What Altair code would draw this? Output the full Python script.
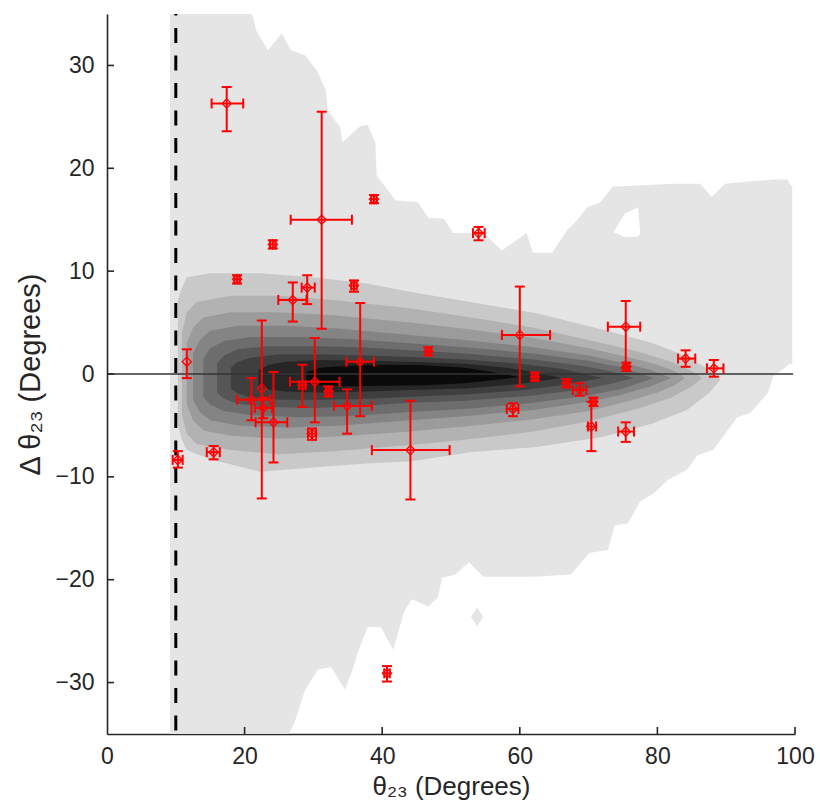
import altair as alt
import pandas as pd

# ---------------- contour data (theta23 in degrees, delta theta23 in degrees) -------------
# outermost (lightest) filled level: upper and lower boundaries
L1_up_x = [9.16, 21.08, 21.7, 23.4, 25.4, 26.7, 28.8, 30.5, 31.8, 32.1, 33.9, 34.2, 36.8, 37.9, 39.0,
           39.2, 41.9, 45.2, 46.7, 49.0, 50.3, 54.7, 57.4, 61.0, 61.9, 64.7, 66.9, 68.0, 69.8, 71.7,
           73.5, 82.3, 86.2, 87.9, 89.8, 96.8, 98.8, 99.6]
L1_up_y = [35, 35, 33.4, 31.5, 33.1, 31.5, 31.0, 29.5, 27.6, 25.6, 24.0, 22.5, 24.1, 24.2, 22.5,
           19.3, 16.9, 16.7, 15.2, 15.1, 13.7, 13.7, 12.0, 13.7, 11.8, 11.8, 14.0, 14.7, 16.2, 16.7,
           18.2, 18.5, 18.5, 17.2, 18.5, 18.9, 18.9, 18.2]
L1_lo_x = [9.16, 26.45, 27.3, 28.8, 30.7, 32.6, 34.6, 35.6, 36.5, 37.9, 39.8, 41.6, 43.2, 44.3, 46.7,
           48.1, 48.7, 50.6, 52.6, 54.7, 62.1, 67.4, 70.1, 72.8, 73.8, 75.7, 77.5, 79.5, 81.5, 84.3,
           85.8, 88.1, 90.1, 91.6, 93.5, 96.1, 96.8, 99.6]
L1_lo_y = [-35, -35, -33.8, -30.7, -28.7, -28.5, -30.7, -28.9, -27.0, -24.6, -24.6, -26.8, -23.1, -21.9, -22.6,
           -21.7, -19.8, -19.5, -18.3, -19.7, -19.7, -19.5, -17.4, -17.1, -14.7, -14.5, -12.4, -11.6, -10.3, -9.3,
           -7.9, -7.4, -5.6, -4.2, -3.8, -1.8, -0.3, 1.2]

# hole in the outer level and a small isolated island
HOLE_x = [73.6, 75.3, 77.2, 77.5]
HOLE_up = [13.8, 15.6, 16.2, 13.6]
HOLE_lo = [13.8, 13.3, 13.4, 13.6]
ISL_x = [52.9, 53.8, 54.7]
ISL_up = [-23.6, -22.7, -23.6]
ISL_lo = [-23.6, -24.5, -23.6]

# inner levels (x, upper, lower)
L2_x = [10.3, 10.9, 11.6, 15.0, 22.2, 29.9, 37.8, 44.0, 52.8, 62.5, 72.1, 79.4, 84.3, 87.6, 89.2]
L2_up = [7.2, 8.4, 9.4, 9.8, 9.8, 9.4, 8.8, 8.0, 7.0, 5.9, 4.3, 3.0, 1.7, 0.4, -0.5]
L2_lo = [-5.0, -6.4, -7.4, -8.3, -9.5, -9.1, -8.7, -8.5, -7.6, -7.1, -6.1, -4.8, -3.5, -1.8, -0.5]

L3_x = [10.9, 11.6, 13.0, 18.0, 25.0, 33.0, 44.0, 52.0, 62.0, 70.0, 77.0, 82.0, 85.0, 86.5]
L3_up = [4.0, 6.0, 7.0, 7.6, 7.6, 7.2, 6.4, 5.6, 4.5, 3.3, 2.2, 1.2, 0.3, -0.4]
L3_lo = [-4.0, -5.8, -6.8, -7.4, -7.8, -7.5, -6.9, -6.4, -5.6, -4.6, -3.4, -2.3, -1.2, -0.4]

L4_x = [11.6, 12.5, 14.0, 18.0, 25.0, 33.0, 44.0, 52.0, 62.0, 70.0, 76.0, 80.0, 82.5, 84.0]
L4_up = [3.0, 4.5, 5.5, 6.0, 6.0, 5.7, 5.0, 4.4, 3.5, 2.5, 1.6, 0.9, 0.3, -0.4]
L4_lo = [-3.0, -4.5, -5.5, -6.0, -6.3, -6.1, -5.6, -5.1, -4.4, -3.6, -2.6, -1.8, -1.1, -0.4]

L5_x = [12.5, 13.5, 15.0, 19.0, 26.0, 34.0, 44.0, 52.0, 62.0, 70.0, 75.0, 79.0, 82.0]
L5_up = [2.0, 3.3, 4.2, 4.7, 4.7, 4.4, 3.8, 3.3, 2.6, 1.8, 1.1, 0.4, -0.4]
L5_lo = [-2.5, -3.7, -4.5, -5.0, -5.2, -5.0, -4.5, -4.1, -3.5, -2.7, -2.0, -1.2, -0.4]

L6_x = [14.0, 15.0, 17.0, 21.0, 28.0, 35.0, 44.0, 52.0, 62.0, 70.0, 75.0, 79.5]
L6_up = [1.5, 2.5, 3.2, 3.6, 3.6, 3.4, 3.0, 2.6, 2.0, 1.3, 0.6, -0.4]
L6_lo = [-2.2, -3.0, -3.6, -4.0, -4.2, -4.1, -3.7, -3.4, -2.8, -2.1, -1.4, -0.4]

L7_x = [16.0, 17.0, 19.0, 23.0, 30.0, 37.0, 44.0, 52.0, 62.0, 69.0, 73.0, 76.5]
L7_up = [1.0, 1.8, 2.4, 2.7, 2.7, 2.6, 2.3, 2.0, 1.4, 0.8, 0.3, -0.4]
L7_lo = [-1.8, -2.4, -2.9, -3.2, -3.3, -3.1, -2.8, -2.6, -2.1, -1.5, -1.0, -0.4]

L8_x = [18.0, 19.0, 21.0, 25.0, 32.0, 38.0, 44.0, 52.0, 60.0, 66.0, 72.0]
L8_up = [0.6, 1.2, 1.6, 1.9, 1.9, 1.8, 1.65, 1.4, 1.0, 0.5, -0.4]
L8_lo = [-1.4, -1.9, -2.3, -2.5, -2.5, -2.4, -2.2, -2.0, -1.6, -1.1, -0.4]

L9_x = [22.0, 23.5, 26.0, 31.0, 38.0, 44.0, 52.0, 58.0, 62.0, 66.0]
L9_up = [0.4, 0.9, 1.2, 1.35, 1.3, 1.2, 1.0, 0.6, 0.2, -0.4]
L9_lo = [-1.1, -1.5, -1.7, -1.8, -1.7, -1.55, -1.4, -1.1, -0.8, -0.4]

L10_x = [29.0, 31.0, 35.0, 40.0, 46.0, 52.0, 56.0, 60.0]
L10_up = [0.2, 0.6, 0.8, 0.9, 0.85, 0.6, 0.2, -0.3]
L10_lo = [-0.9, -1.1, -1.2, -1.15, -1.1, -0.9, -0.6, -0.3]

LEVEL_COLORS = ["#e5e5e5", "#c9c9c9", "#b2b2b2", "#9b9b9b", "#848484",
                "#6d6d6d", "#565656", "#3f3f3f", "#262626", "#0a0a0a"]

# ---------------- measured points with error bars ----------------
PT_x = [17.4, 31.2, 24.1, 38.8, 18.9, 27.0, 29.1, 35.9, 36.8, 11.6, 46.7, 60.0, 75.4, 75.5, 84.1,
        88.2, 54.0, 10.3, 15.5, 29.8, 44.1, 24.2, 22.5, 21.0, 22.7, 28.4, 30.2, 32.2, 34.9, 40.7,
        62.2, 66.8, 68.7, 70.7, 70.4, 75.4, 59.0]
PT_y = [26.3, 15.0, 12.6, 17.0, 9.2, 7.2, 8.4, 8.6, 1.2, 1.2, 2.2, 3.8, 4.6, 0.7, 1.5,
        0.55, 13.7, -8.35, -7.6, -5.8, -7.4, -4.7, -1.4, -2.5, -3.3, -1.1, -0.75, -1.7, -3.1, -29.1,
        -0.26, -0.9, -1.55, -2.7, -5.1, -5.6, -3.4]
PT_ylo = [23.6, 4.4, 12.2, 16.6, 8.8, 5.1, 6.8, 8.0, -4.1, -0.4, 1.8, -1.2, 0.6, 0.3, 0.7,
          -0.26, 13.0, -9.1, -8.3, -6.4, -12.2, -8.6, -12.1, -4.5, -4.3, -3.2, -4.7, -2.2, -5.8, -29.9,
          -0.66, -1.3, -2.1, -3.1, -7.5, -6.6, -4.1]
PT_yhi = [27.9, 25.5, 13.0, 17.4, 9.6, 8.9, 9.6, 9.1, 6.9, 2.4, 2.6, 8.5, 7.1, 1.1, 2.3,
          1.36, 14.3, -7.5, -7.0, -5.3, -2.6, 0.2, 5.2, -0.4, -2.3, 0.9, 3.5, -1.2, -1.5, -28.4,
          0.14, -0.5, -0.9, -2.3, -2.7, -4.7, -2.85]
PT_xlo = [15.2, 26.7, 23.7, 38.4, 18.5, 24.9, 28.3, 35.5, 34.8, 11.6, 46.3, 57.4, 72.8, 75.1, 83.0,
          87.2, 53.2, 9.55, 14.5, 29.2, 38.5, 21.6, 22.5, 18.9, 21.5, 27.9, 26.6, 31.8, 33.0, 40.3,
          61.8, 66.4, 67.7, 70.3, 69.9, 74.3, 58.1]
PT_xhi = [19.8, 35.6, 24.5, 39.2, 19.3, 29.0, 30.2, 36.3, 38.8, 11.6, 47.1, 64.4, 77.5, 75.9, 85.5,
          89.6, 54.9, 11.0, 16.4, 30.4, 49.8, 26.2, 22.5, 23.7, 24.0, 28.9, 33.8, 32.6, 38.5, 41.1,
          62.6, 67.2, 69.7, 71.1, 71.1, 76.6, 59.8]

X_TICKS = [0, 20, 40, 60, 80, 100]
Y_TICKS = [-30, -20, -10, 0, 10, 20, 30]
CUT_X = 10

W, H = 688, 720
RED = "#ff0000"
FONT = "Liberation Sans"
TXT = "#262626"

xscale = alt.Scale(domain=[0, 100], nice=False, zero=False)
yscale = alt.Scale(domain=[-35, 35], nice=False, zero=False)
xaxis = alt.Axis(values=X_TICKS, title="θ₂₃ (Degrees)", grid=False, ticks=False, labelFlush=False,
                 labelPadding=11, titlePadding=5, domainColor=TXT, domainWidth=1.6, titleFontSize=26)
yaxis = alt.Axis(values=Y_TICKS, title="Δ θ₂₃ (Degrees)", grid=False, ticks=False, labelFlush=False,
                 labelPadding=13, titlePadding=9, domainColor=TXT, domainWidth=1.6, titleFontSize=29)


def X(f):
    return alt.X(f, type="quantitative", scale=xscale, axis=xaxis)


def Y(f):
    return alt.Y(f, type="quantitative", scale=yscale, axis=yaxis)


layers = []

# outer level: upper part and lower part (overlapping in the middle)
up_df = pd.DataFrame({"x": L1_up_x, "y": L1_up_y})
lo_df = pd.DataFrame({"x": L1_lo_x, "y": L1_lo_y})
layers.append(alt.Chart(up_df).mark_area(color=LEVEL_COLORS[0], opacity=1, interpolate="linear")
              .encode(x=X("x"), y=Y("y"), y2=alt.datum(1.0)))
layers.append(alt.Chart(lo_df).mark_area(color=LEVEL_COLORS[0], opacity=1, interpolate="linear")
              .encode(x=X("x"), y=Y("y"), y2=alt.datum(1.6)))
layers.append(alt.Chart(pd.DataFrame({"x": HOLE_x, "up": HOLE_up, "lo": HOLE_lo}))
              .mark_area(color="#ffffff", opacity=1).encode(x=X("x"), y=Y("up"), y2="lo"))
layers.append(alt.Chart(pd.DataFrame({"x": ISL_x, "up": ISL_up, "lo": ISL_lo}))
              .mark_area(color=LEVEL_COLORS[0], opacity=1).encode(x=X("x"), y=Y("up"), y2="lo"))

inner = [(L2_x, L2_up, L2_lo), (L3_x, L3_up, L3_lo), (L4_x, L4_up, L4_lo), (L5_x, L5_up, L5_lo),
         (L6_x, L6_up, L6_lo), (L7_x, L7_up, L7_lo), (L8_x, L8_up, L8_lo), (L9_x, L9_up, L9_lo),
         (L10_x, L10_up, L10_lo)]
for i, (lx, lu, ll) in enumerate(inner):
    d = pd.DataFrame({"x": lx, "up": lu, "lo": ll})
    layers.append(alt.Chart(d).mark_area(color=LEVEL_COLORS[i + 1], opacity=1, interpolate="linear")
                  .encode(x=X("x"), y=Y("up"), y2="lo"))

# zero line
layers.append(alt.Chart(pd.DataFrame({"v": [0]})).mark_rule(color="#333333", strokeWidth=1.3)
              .encode(y=Y("v"), x=alt.value(0), x2=alt.value(W - 2)))

# dashed cut line
layers.append(alt.Chart(pd.DataFrame({"v": [CUT_X]}))
              .mark_rule(color="#000000", strokeWidth=3, strokeDash=[15, 12.5], strokeDashOffset=24)
              .encode(x=X("v"), y=alt.value(H), y2=alt.value(0)))

pts = pd.DataFrame({"x": PT_x, "y": PT_y, "ylo": PT_ylo, "yhi": PT_yhi, "xlo": PT_xlo, "xhi": PT_xhi})
base = alt.Chart(pts)
# vertical error bars + caps
layers.append(base.mark_rule(color=RED, strokeWidth=2).encode(x=X("x"), y=Y("ylo"), y2="yhi"))
layers.append(base.mark_rule(color=RED, strokeWidth=2, xOffset=-5, x2Offset=5)
              .encode(x=X("x"), x2="x", y=Y("ylo")))
layers.append(base.mark_rule(color=RED, strokeWidth=2, xOffset=-5, x2Offset=5)
              .encode(x=X("x"), x2="x", y=Y("yhi")))
# horizontal error bars + caps
hb = base.transform_filter("datum.xhi > datum.xlo")
layers.append(hb.mark_rule(color=RED, strokeWidth=2).encode(x=X("xlo"), x2="xhi", y=Y("y")))
layers.append(hb.mark_rule(color=RED, strokeWidth=2, yOffset=-5, y2Offset=5)
              .encode(x=X("xlo"), y=Y("y"), y2="y"))
layers.append(hb.mark_rule(color=RED, strokeWidth=2, yOffset=-5, y2Offset=5)
              .encode(x=X("xhi"), y=Y("y"), y2="y"))
# markers
layers.append(base.mark_point(shape="diamond", filled=False, color=RED, size=85, strokeWidth=1.3, opacity=1)
              .encode(x=X("x"), y=Y("y")))

# inward ticks
layers.append(alt.Chart(pd.DataFrame({"v": X_TICKS[1:]})).mark_rule(color=TXT, strokeWidth=1.6)
              .encode(x=X("v"), y=alt.value(H), y2=alt.value(H - 7)))
layers.append(alt.Chart(pd.DataFrame({"v": Y_TICKS})).mark_rule(color=TXT, strokeWidth=1.6)
              .encode(y=Y("v"), x=alt.value(0), x2=alt.value(7)))

chart = alt.layer(*layers).properties(
    width=W, height=H,
    padding={"left": 107, "top": 14, "right": 25, "bottom": 77},
    autosize=alt.AutoSizeParams(type="none"),
).configure_view(stroke=None).configure_axis(
    labelFont=FONT, titleFont=FONT, labelFontSize=23,
    labelColor=TXT, titleColor=TXT, titleFontWeight="normal",
)

chart.save("out.html", embed_options={"renderer": "svg", "actions": False})
